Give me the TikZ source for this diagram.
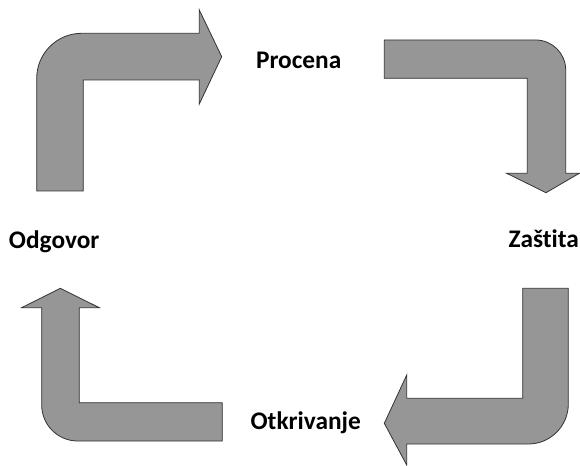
\documentclass[tikz,border=0pt]{standalone}
\usepackage{fontspec}
\setmainfont[Ligatures = NoCommon]{Carlito}
\definecolor{blokgray}{RGB}{150,150,150}
\definecolor{rubgray}{RGB}{50,50,50}
\begin{document}
\begin{tikzpicture}[x = .75pt, y = -.75pt,
    blok/.style = {fill = blokgray, draw = rubgray, line width = .6pt},
    lbl/.style = {font = \bfseries\fontsize{19}{22}\selectfont, inner sep = 0pt}]
  \useasboundingbox (0,0) rectangle (580,466);
  % labels
  \node [lbl, anchor = base] (procena) at (298.7,68.3) {Procena};
  \node [lbl, anchor = base west] (zastita) at (508.3,247.5) {Zašt\kern0pt ita};
  \node [lbl, anchor = base] (otkrivanje) at (305.7,429.3) {Otkrivanje};
  \node [lbl, anchor = base] (odgovor) at (54.2,248.3) {Odgovor};
  % arrows
  \draw [blok] (83.3,191) -- (36.7,191) [rounded corners = 33.75pt]
    -- (36.7,33.3) [sharp corners] -- (199.3,33.3) -- (199.3,10)
    -- (221.7,56.7) -- (199.3,104) -- (199.3,80) -- (83.3,80) -- cycle;
  \draw [blok] (384.3,78.3) -- (384.3,40) [rounded corners = 22.5pt]
    -- (565.7,40) [sharp corners] -- (565.7,173.3) -- (579.3,173.3)
    -- (546,192.7) -- (506.7,173.3) -- (527.3,173.3) -- (527.3,78.3) -- cycle;
  \draw [blok] (522.7,288.3) -- (568.3,288.3) [rounded corners = 30pt]
    -- (568.3,444) [sharp corners] -- (406.7,444) -- (406.7,465)
    -- (384.3,423.3) -- (406.7,375) -- (406.7,398.3) -- (522.7,398.3) -- cycle;
  \draw [blok] (222.3,441) -- (222.3,402.7) -- (79.3,402.7) -- (79.3,307.7)
    -- (99.3,307.7) -- (60.3,288.3) -- (21.7,307.7) -- (41.7,307.7)
    [rounded corners = 27pt] -- (41.7,441) [sharp corners] -- cycle;
\end{tikzpicture}
\end{document}
